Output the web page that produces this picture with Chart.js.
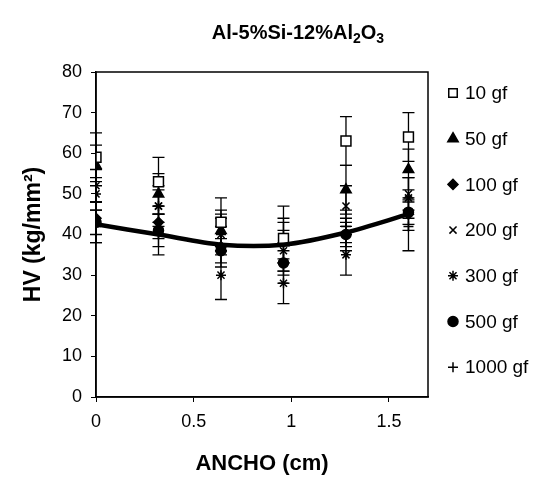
<!DOCTYPE html>
<html>
<head>
<meta charset="utf-8">
<script src="https://cdn.jsdelivr.net/npm/chart.js@4.4.0/dist/chart.umd.min.js"></script>
<style>
  body { margin: 0; background: #fff; }
  #wrap { width: 555px; height: 497px; }
</style>
</head>
<body>
<div id="wrap"><canvas id="chart"></canvas></div>
<script>
// posiciones (cm) y dureza HV por carga
const anchoCm = [0, 0.32, 0.64, 0.96, 1.28, 1.6];
const xTicks = [0, 0.5, 1, 1.5];

const hv10 = [59, 53, 43, 39, 63, 64];
const err10 = [6, 6, 6, 8, 6, 6];
const hv50 = [57, 50, 41, 38, 51, 56];
const err50 = [5, 5, 5, 5, 6, 5];
const hv100 = [44, 43, 37, 33, 40, 45];
const err100 = [4, 4, 5, 5, 4, 4];
const hv200 = [52, 47, 40, 36, 47, 50];
const err200 = [4, 4, 4, 5, 5, 4];
const hv300 = [50, 47, 30, 28, 35, 49];
const err300 = [4, 5, 6, 5, 5, 5];
const hv500 = [43, 41, 36, 33, 40, 45.5];
const err500 = [5, 4, 3, 3, 3, 3];
const hv1000 = [42, 40, 40, 39, 42, 42];
const err1000 = [4, 5, 5, 5, 4, 6];
const tendencia = [42.5, 40, 37.5, 37.5, 40.5, 45];

// titulo con subindices: [texto, es subindice]
const tituloPartes = [['Al-5%Si-12%Al', false], ['2', true], ['O', false], ['3', true]];

const FONT = '"Liberation Sans", Arial, sans-serif';

function pts(ys) {
  return anchoCm.map((x, i) => ({ x: x, y: ys[i] }));
}

function serie(label, ys, errs, style, radius, fill) {
  return {
    label: label,
    data: pts(ys),
    err: errs,
    inLegend: true,
    showLine: false,
    pointStyle: style,
    pointRadius: radius,
    pointBorderWidth: 1.5,
    pointBorderColor: '#000',
    pointBackgroundColor: fill,
    borderColor: '#000',
    backgroundColor: fill
  };
}

const datasets = [
  {
    label: 'tendencia',
    data: pts(tendencia),
    showLine: true,
    borderColor: '#000',
    borderWidth: 4.5,
    tension: 0.3,
    pointRadius: 0,
    fill: false
  },
  serie('10 gf', hv10, err10, 'rect', 7, '#fff'),
  serie('50 gf', hv50, err50, 'triangle', 6, '#000'),
  serie('100 gf', hv100, err100, 'rectRot', 5, '#000'),
  serie('200 gf', hv200, err200, 'crossRot', 5, '#000'),
  serie('300 gf', hv300, err300, 'star', 5, '#000'),
  serie('500 gf', hv500, err500, 'circle', 5, '#000'),
  serie('1000 gf', hv1000, err1000, 'cross', 5, '#000')
];

// barras de error, dibujadas debajo de los marcadores
const errorBars = {
  id: 'errorBars',
  beforeDatasetsDraw(chart) {
    const ctx = chart.ctx;
    const yScale = chart.scales.y;
    ctx.save();
    ctx.strokeStyle = '#000';
    ctx.lineWidth = 1.3;
    chart.data.datasets.forEach((ds, di) => {
      if (!ds.err) return;
      const meta = chart.getDatasetMeta(di);
      meta.data.forEach((pt, i) => {
        const v = ds.data[i].y;
        const top = yScale.getPixelForValue(v + ds.err[i]);
        const bot = yScale.getPixelForValue(v - ds.err[i]);
        ctx.beginPath();
        ctx.moveTo(pt.x, top);
        ctx.lineTo(pt.x, bot);
        ctx.moveTo(pt.x - 6, top);
        ctx.lineTo(pt.x + 6, top);
        ctx.moveTo(pt.x - 6, bot);
        ctx.lineTo(pt.x + 6, bot);
        ctx.stroke();
      });
    });
    ctx.restore();
  }
};

// marco del area de trazado
const frame = {
  id: 'frame',
  afterDraw(chart) {
    const { ctx, chartArea } = chart;
    ctx.save();
    ctx.strokeStyle = '#000';
    ctx.lineWidth = 1.5;
    ctx.strokeRect(chartArea.left, chartArea.top, chartArea.right - chartArea.left, chartArea.bottom - chartArea.top);
    ctx.restore();
  }
};

// titulo arriba, centrado sobre la figura
const titulo = {
  id: 'titulo',
  afterDraw(chart) {
    const ctx = chart.ctx;
    const big = 'bold 20px ' + FONT;
    const small = 'bold 14px ' + FONT;
    ctx.save();
    ctx.fillStyle = '#000';
    ctx.textBaseline = 'alphabetic';
    let total = 0;
    tituloPartes.forEach(([t, sub]) => {
      ctx.font = sub ? small : big;
      total += ctx.measureText(t).width;
    });
    let x = 298 - total / 2;
    const base = 39;
    tituloPartes.forEach(([t, sub]) => {
      ctx.font = sub ? small : big;
      ctx.fillText(t, x, sub ? base + 4 : base);
      x += ctx.measureText(t).width;
    });
    ctx.restore();
  }
};

// leyenda a la derecha
const sideLegend = {
  id: 'sideLegend',
  afterDraw(chart) {
    const { ctx, chartArea } = chart;
    const x0 = chartArea.right + 25;
    let y = chartArea.top + 21;
    ctx.save();
    ctx.font = '19px ' + FONT;
    ctx.textBaseline = 'middle';
    chart.data.datasets.forEach((ds) => {
      if (!ds.inLegend) return;
      ctx.fillStyle = ds.pointBackgroundColor;
      ctx.strokeStyle = '#000';
      ctx.lineWidth = ds.pointBorderWidth;
      const r = ds.pointStyle === 'rect' ? 6 : ds.pointRadius;
      Chart.helpers.drawPoint(ctx, { pointStyle: ds.pointStyle, radius: r, borderWidth: ds.pointBorderWidth, rotation: 0 }, x0, y);
      ctx.fillStyle = '#000';
      ctx.fillText(ds.label, x0 + 12, y + 1);
      y += 45.7;
    });
    ctx.restore();
  }
};

new Chart(document.getElementById('chart'), {
  type: 'scatter',
  data: { datasets: datasets },
  plugins: [errorBars, frame, titulo, sideLegend],
  options: {
    responsive: true,
    maintainAspectRatio: false,
    animation: false,
    layout: { padding: { top: 72, left: 0, right: 0, bottom: 0 } },
    plugins: {
      legend: { display: false },
      tooltip: { enabled: false },
      title: { display: false }
    },
    scales: {
      x: {
        type: 'linear',
        min: 0,
        max: 1.7,
        afterBuildTicks: (scale) => { scale.ticks = xTicks.map(v => ({ value: v })); },
        afterFit: (scale) => { scale.height = 100; },
        ticks: {
          color: '#000',
          font: { family: FONT, size: 18 },
          padding: 9,
          callback: (v) => String(v)
        },
        grid: { display: true, drawOnChartArea: false, tickLength: 5, color: '#000' },
        border: { display: true, color: '#000', width: 1.5 },
        title: {
          display: true,
          text: 'ANCHO (cm)',
          color: '#000',
          font: { family: FONT, size: 22, weight: 'bold' },
          padding: { top: 0, bottom: 20 }
        }
      },
      y: {
        min: 0,
        max: 80,
        afterFit: (scale) => { scale.width = 96; },
        ticks: {
          stepSize: 10,
          color: '#000',
          font: { family: FONT, size: 18 },
          padding: 9
        },
        grid: { display: true, drawOnChartArea: false, tickLength: 5, color: '#000' },
        border: { display: true, color: '#000', width: 1.5 },
        title: {
          display: true,
          text: 'HV (kg/mm²)',
          color: '#000',
          font: { family: FONT, size: 23, weight: 'bold' },
          padding: { top: 20, bottom: 0 }
        }
      },
      yR: {
        position: 'right',
        min: 0,
        max: 80,
        afterFit: (scale) => { scale.width = 127; },
        ticks: { display: false },
        grid: { display: false },
        border: { display: false }
      }
    }
  }
});
</script>
</body>
</html>
